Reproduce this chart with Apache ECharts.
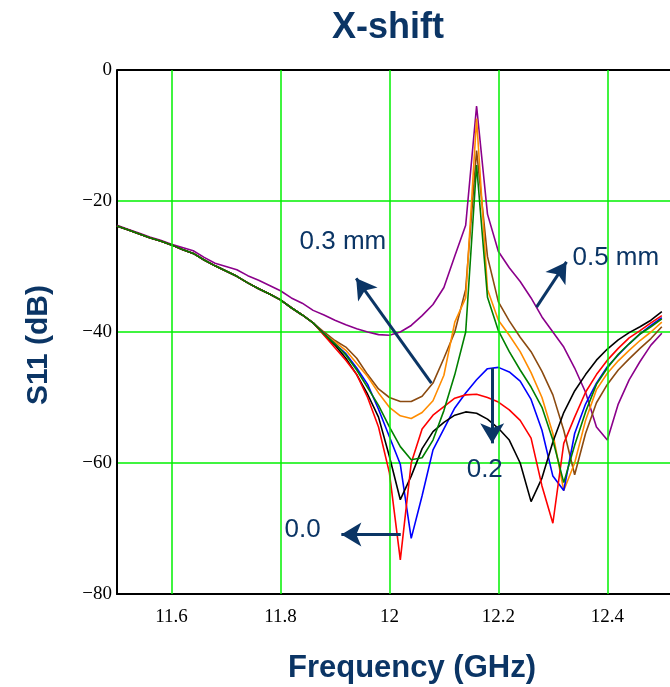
<!DOCTYPE html>
<html>
<head>
<meta charset="utf-8">
<script src="https://cdn.jsdelivr.net/npm/echarts@6/dist/echarts.min.js"></script>
<style>
html,body{margin:0;padding:0;background:#fff;}
#chart{width:670px;height:687px;}
</style>
</head>
<body>
<div id="chart"></div>
<script>
// Frequency grid (GHz)
const freqs = [11.50,11.52,11.54,11.56,11.58,11.60,11.62,11.64,11.66,11.68,
  11.70,11.72,11.74,11.76,11.78,11.80,11.82,11.84,11.86,11.88,
  11.90,11.92,11.94,11.96,11.98,12.00,12.02,12.04,12.06,12.08,
  12.10,12.12,12.14,12.16,12.18,12.20,12.22,12.24,12.26,12.28,
  12.30,12.32,12.34,12.36,12.38,12.40,12.42,12.44,12.46,12.48,12.50];

// common low-frequency part (11.50 .. 11.86)
const commonLow = [-23.8,-24.4,-25.0,-25.6,-26.1,-26.7,-27.4,-28.0,-29.0,-29.9,
  -30.7,-31.5,-32.5,-33.4,-34.2,-35.1,-36.3,-37.4,-38.6];

const blackHigh = [-40.4,-42.0,-44.0,-46.5,-49.5,-53.0,-59.0,-65.6,-62.0,-57.8,
  -55.2,-53.8,-52.7,-52.2,-52.4,-53.3,-54.7,-56.5,-60.0,-65.9,
  -62.3,-56.8,-52.3,-49.0,-46.5,-44.3,-42.6,-41.2,-40.1,-39.2,-38.2,-36.9];
const redHigh = [-40.5,-42.4,-44.3,-46.5,-50.0,-54.5,-61.5,-74.8,-60.0,-54.8,
  -52.7,-51.4,-50.1,-49.6,-49.5,-50.0,-50.7,-51.9,-53.5,-56.2,
  -63.5,-69.2,-57.0,-53.0,-49.2,-46.5,-44.3,-42.5,-40.9,-39.8,-38.6,-37.5];
const blueHigh = [-40.3,-41.8,-43.3,-45.5,-48.0,-51.8,-56.0,-60.2,-71.5,-65.0,
  -58.0,-54.8,-51.6,-49.3,-47.3,-45.6,-45.4,-46.1,-47.5,-50.3,
  -55.0,-62.0,-64.2,-55.5,-51.0,-47.8,-45.3,-43.5,-41.8,-40.3,-39.0,-37.8];
const greenHigh = [-40.3,-41.8,-43.5,-45.8,-48.5,-51.2,-54.5,-57.5,-59.5,-59.2,
  -56.5,-52.0,-46.5,-40.0,-14.5,-34.7,-39.8,-43.0,-45.8,-48.4,
  -51.5,-56.5,-63.0,-57.3,-52.2,-48.0,-45.5,-43.4,-41.8,-40.3,-39.2,-38.0];
const orangeHigh = [-40.3,-41.5,-42.8,-44.8,-46.8,-49.3,-51.5,-52.8,-53.2,-52.3,
  -50.5,-46.6,-38.5,-34.8,-7.4,-33.5,-38.2,-40.5,-43.0,-46.2,
  -50.0,-55.5,-64.2,-60.0,-53.5,-48.8,-46.3,-44.4,-42.8,-41.3,-40.0,-38.5];
const brownHigh = [-40.0,-41.3,-42.3,-44.0,-46.5,-48.7,-50.0,-50.6,-50.6,-49.8,
  -47.8,-44.0,-40.0,-33.5,-12.3,-28.5,-35.4,-38.3,-40.8,-43.0,
  -46.0,-49.6,-55.0,-61.8,-55.5,-50.8,-48.0,-45.8,-44.1,-42.5,-41.0,-39.2];
const purpleAll = [-23.7,-24.3,-24.9,-25.5,-26.0,-26.6,-27.1,-27.6,-28.6,-29.5,
  -30.0,-30.5,-31.4,-32.1,-32.9,-33.7,-34.8,-35.6,-36.7,-37.4,
  -38.2,-38.9,-39.5,-40.0,-40.4,-40.5,-40.0,-39.0,-37.5,-35.8,
  -33.2,-28.4,-23.7,-5.5,-22.0,-27.7,-30.2,-32.3,-34.8,-37.7,
  -40.0,-42.3,-45.5,-49.2,-54.5,-56.5,-51.0,-47.3,-44.5,-42.0,-40.2];

const xTicks = [11.6, 11.8, 12.0, 12.2, 12.4];
const yTicks = [0, -20, -40, -60, -80];

// annotations (data coordinates)
const arrows = [
  {from:[12.077,-47.8], to:[11.939,-31.8]},
  {from:[12.270,-36.2], to:[12.325,-29.3]},
  {from:[12.1886,-45.5], to:[12.1886,-57.0]},
  {from:[12.0208,-70.9], to:[11.9118,-70.9]}
];
const notes = [
  {text:'0.3 mm', at:[11.835,-26.3], align:'left'},
  {text:'0.5 mm', at:[12.336,-28.7], align:'left'},
  {text:'0.2', at:[12.175,-61.1], align:'center'},
  {text:'0.0', at:[11.8075,-70.2], align:'left'}
];

const NAVY = '#0b3565';
const GRID_GREEN = '#00f000';
const isMajor = v => xTicks.some(t => Math.abs(t - v) < 1e-6);

const series = [
  {name:'purple', color:'#8b008b', data: purpleAll},
  {name:'brown', color:'#8b4a10', data: commonLow.concat(brownHigh)},
  {name:'orange', color:'#ff8c00', data: commonLow.concat(orangeHigh)},
  {name:'blue', color:'#0000ff', data: commonLow.concat(blueHigh)},
  {name:'black', color:'#000000', data: commonLow.concat(blackHigh)},
  {name:'red', color:'#ff0000', data: commonLow.concat(redHigh)},
  {name:'green', color:'#008000', data: commonLow.concat(greenHigh)}
].map(s => ({
  type:'line', name:s.name, symbol:'none', smooth:false,
  lineStyle:{color:s.color, width:1.6}, itemStyle:{color:s.color},
  data: freqs.map((f,i)=>[f, s.data[i]]), z:3
}));

// vertical grid lines at the labelled frequencies
series.unshift({
  type:'line', name:'xgrid', data:[], silent:true, z:1,
  markLine:{
    silent:true, animation:false, symbol:['none','none'],
    lineStyle:{color:GRID_GREEN, width:1.5, type:'solid', opacity:1},
    label:{show:false},
    data: xTicks.map(v=>({xAxis:v}))
  }
});
// top frame line
series.unshift({
  type:'line', name:'topframe', data:[], silent:true, z:4,
  markLine:{
    silent:true, animation:false, symbol:['none','none'],
    lineStyle:{color:'#000', width:2, type:'solid'},
    label:{show:false},
    data:[{yAxis:0}]
  }
});

series.push({
  type:'line', name:'arrows', data:[], silent:true, z:5,
  markLine:{
    silent:true, animation:false,
    symbol:['none','arrow'], symbolSize:[18,20],
    lineStyle:{color:NAVY, width:3, type:'solid'},
    label:{show:false},
    data: arrows.map(a=>[{coord:a.from},{coord:a.to}])
  }
});

const chart = echarts.init(document.getElementById('chart'));
chart.setOption({
  animation:false,
  backgroundColor:'#fff',
  grid:{left:117, right:0, top:70, bottom:93},
  xAxis:{
    type:'value', min:11.5, max:12.515, interval:0.1, position:'bottom',
    axisLine:{show:true, onZero:false, lineStyle:{color:'#000', width:2}},
    axisTick:{show:false},
    axisLabel:{color:'#000', fontFamily:'Liberation Serif', fontSize:19, margin:14,
      showMinLabel:false, showMaxLabel:false,
      formatter:v=> isMajor(v) ? String(Math.round(v*10)/10) : ''},
    splitLine:{show:false},
    minorSplitLine:{show:false}
  },
  yAxis:{
    type:'value', min:-80, max:0, interval:20,
    axisLine:{show:true, onZero:false, lineStyle:{color:'#000', width:2}},
    axisTick:{show:false},
    axisLabel:{color:'#000', fontFamily:'Liberation Serif', fontSize:19, margin:5, padding:[5,0,0,0],
      formatter:v=> v===0 ? '0' : '\u2212'+Math.abs(v)},
    splitLine:{show:true, lineStyle:{color:GRID_GREEN, width:1.5}}
  },
  series: series
});

const g = [
  {type:'text', x:388, y:28, style:{text:'X-shift', fill:NAVY, font:'bold 36px "Liberation Sans", Arial', textAlign:'center', textVerticalAlign:'middle'}},
  {type:'text', x:412, y:668, style:{text:'Frequency (GHz)', fill:NAVY, font:'bold 31px "Liberation Sans", Arial', textAlign:'center', textVerticalAlign:'middle'}},
  {type:'text', x:39, y:345, rotation:Math.PI/2, style:{text:'S11 (dB)', fill:NAVY, font:'bold 30px "Liberation Sans", Arial', textAlign:'center', textVerticalAlign:'middle'}}
];
notes.forEach(n=>{
  const p = chart.convertToPixel({xAxisIndex:0, yAxisIndex:0}, n.at);
  g.push({type:'text', x:p[0], y:p[1], z:10, style:{text:n.text, fill:NAVY, font:'26px "Liberation Sans", Arial', textAlign:n.align, textVerticalAlign:'middle'}});
});
chart.setOption({graphic:g});
</script>
</body>
</html>
